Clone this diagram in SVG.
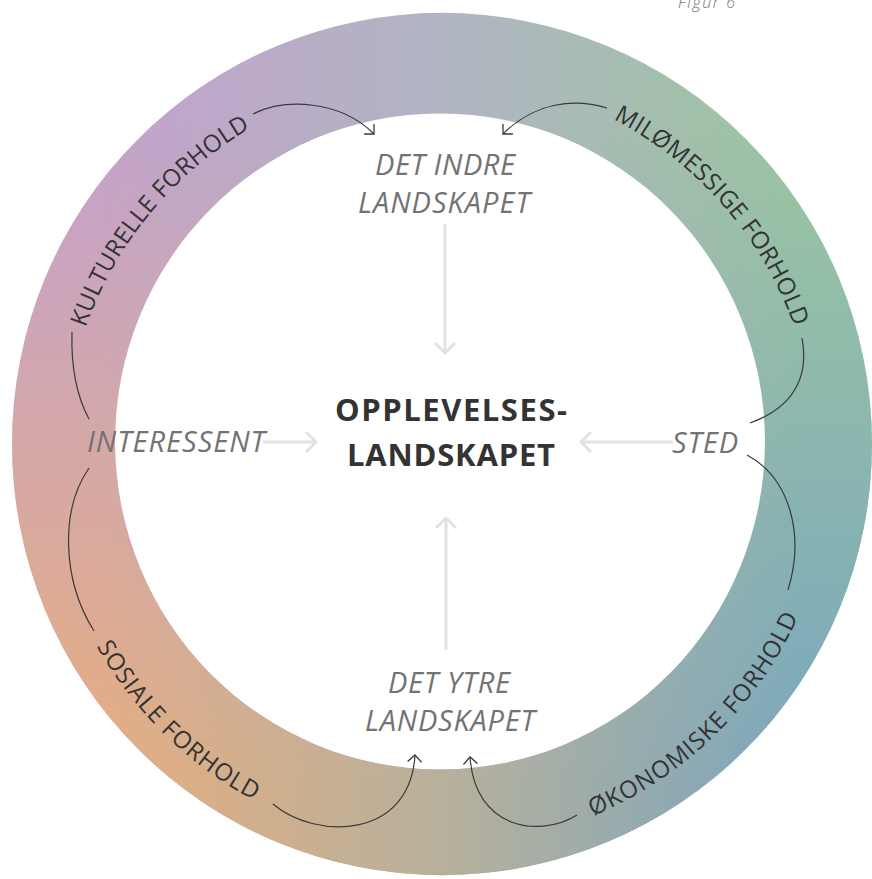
<svg xmlns="http://www.w3.org/2000/svg" xmlns:xlink="http://www.w3.org/1999/xlink" width="872" height="879" viewBox="0 0 872 879">
<style>
.lbl{font-family:"Open Sans","Liberation Sans",sans-serif;font-style:italic;font-weight:400;fill:#737373;font-size:29px}
.ring-t{font-family:"Open Sans","Liberation Sans",sans-serif;font-size:24px;fill:#333333}
.ctr{font-family:"Open Sans","Liberation Sans",sans-serif;font-weight:700;font-size:31px;fill:#333333}
.fig{font-family:"Open Sans","Liberation Sans",sans-serif;font-style:italic;font-weight:300;font-size:16px;fill:#777777}
.dk{fill:none;stroke:#3a3a3a;stroke-width:1.2}
.lt{fill:none;stroke:#e2e2e2;stroke-width:3}
</style>
<defs>
<linearGradient id="gTop" gradientUnits="userSpaceOnUse" x1="100" y1="0" x2="800" y2="0">
<stop offset="0" stop-color="#c4a2ce"/><stop offset="0.5" stop-color="#b0b5c2"/><stop offset="1" stop-color="#9cc6a0"/>
</linearGradient>
<linearGradient id="gBot" gradientUnits="userSpaceOnUse" x1="100" y1="0" x2="800" y2="0">
<stop offset="0" stop-color="#e6ae80"/><stop offset="0.5" stop-color="#b6b09c"/><stop offset="1" stop-color="#7aa6be"/>
</linearGradient>
<linearGradient id="gV" gradientUnits="userSpaceOnUse" x1="0" y1="120" x2="0" y2="780">
<stop offset="0" stop-color="#000"/><stop offset="1" stop-color="#fff"/>
</linearGradient>
<mask id="mV" maskUnits="userSpaceOnUse" x="0" y="0" width="872" height="879">
<rect x="0" y="0" width="872" height="879" fill="url(#gV)"/>
</mask>
<marker id="ahD" viewBox="-10 -10 20 20" markerUnits="userSpaceOnUse" markerWidth="20" markerHeight="20" refX="0" refY="0" orient="auto">
<path d="M -7 -7 L 0 0 L -7 7" fill="none" stroke="#3a3a3a" stroke-width="1.3"/>
</marker>
<marker id="ahL" viewBox="-14 -14 28 28" markerUnits="userSpaceOnUse" markerWidth="28" markerHeight="28" refX="0" refY="0" orient="auto">
<path d="M -10 -10 L 0 0 L -10 10" fill="none" stroke="#e2e2e2" stroke-width="3"/>
</marker>
<path id="pKult" d="M 87.6 584.1 A 376 376 0 0 1 502.7 82.3"/>
<path id="pMilo" d="M 367.6 84.0 A 376 376 0 0 1 795.7 574.8"/>
<path id="pOko" d="M 332.1 831.9 A 394 394 0 0 0 822.1 357.0"/>
<path id="pSos" d="M 58.4 355.0 A 394 394 0 0 0 545.9 832.5"/>
</defs>
<g id="ring">
<path fill-rule="evenodd" fill="url(#gTop)" d="M 12 444 A 430 431 0 1 0 872 444 A 430 431 0 1 0 12 444 Z M 115 441.5 A 325 328 0 1 0 765 441.5 A 325 328 0 1 0 115 441.5 Z"/>
<path fill-rule="evenodd" fill="url(#gBot)" mask="url(#mV)" d="M 12 444 A 430 431 0 1 0 872 444 A 430 431 0 1 0 12 444 Z M 115 441.5 A 325 328 0 1 0 765 441.5 A 325 328 0 1 0 115 441.5 Z"/>
</g>
<g id="connectors">
<line class="lt" x1="445" y1="224" x2="445" y2="353" marker-end="url(#ahL)"/>
<line class="lt" x1="446" y1="650" x2="446" y2="518" marker-end="url(#ahL)"/>
<line class="lt" x1="263" y1="442" x2="316" y2="442" marker-end="url(#ahL)"/>
<line class="lt" x1="673" y1="442" x2="581" y2="442" marker-end="url(#ahL)"/>
<path class="dk" d="M 253 114 C 285 98, 340 100, 374 134" marker-end="url(#ahD)"/>
<path class="dk" d="M 607 108 C 575 98, 535 102, 503 134" marker-end="url(#ahD)"/>
<path class="dk" d="M 72 332 C 71 365, 76 395, 89 419"/>
<path class="dk" d="M 89 468 C 60 510, 62 580, 94 631"/>
<path class="dk" d="M 802 338 C 808 370, 800 405, 750 423"/>
<path class="dk" d="M 747 455 C 790 478, 805 535, 788 590"/>
<path class="dk" d="M 273 804 C 315 840, 410 840, 415 755" marker-end="url(#ahD)"/>
<path class="dk" d="M 577 815 C 540 838, 475 830, 470 757" marker-end="url(#ahD)"/>
</g>
<g id="node-figur"><text class="fig" x="678" y="8" textLength="57">Figur 6</text></g>
<g id="node-det-indre">
<text class="lbl" x="445" y="175" text-anchor="middle" textLength="140">DET INDRE</text>
<text class="lbl" x="444" y="213" text-anchor="middle" textLength="172">LANDSKAPET</text>
</g>
<g id="node-center">
<text class="ctr" x="451" y="421" text-anchor="middle" textLength="232">OPPLEVELSES-</text>
<text class="ctr" x="451" y="466" text-anchor="middle" textLength="208">LANDSKAPET</text>
</g>
<g id="node-interessent"><text class="lbl" x="176" y="452" text-anchor="middle" textLength="178">INTERESSENT</text></g>
<g id="node-sted"><text class="lbl" x="705" y="453" text-anchor="middle" textLength="66">STED</text></g>
<g id="node-det-ytre">
<text class="lbl" x="449" y="693" text-anchor="middle" textLength="122">DET YTRE</text>
<text class="lbl" x="450" y="731" text-anchor="middle" textLength="170">LANDSKAPET</text>
</g>
<g id="node-kulturelle"><text class="ring-t"><textPath xlink:href="#pKult" startOffset="50%" text-anchor="middle" textLength="264">KULTURELLE FORHOLD</textPath></text></g>
<g id="node-milomessige"><text class="ring-t"><textPath xlink:href="#pMilo" startOffset="50%" text-anchor="middle" textLength="282">MILØMESSIGE FORHOLD</textPath></text></g>
<g id="node-okonomiske"><text class="ring-t"><textPath xlink:href="#pOko" startOffset="50%" text-anchor="middle" textLength="293">ØKONOMISKE FORHOLD</textPath></text></g>
<g id="node-sosiale"><text class="ring-t"><textPath xlink:href="#pSos" startOffset="50%" text-anchor="middle" textLength="223">SOSIALE FORHOLD</textPath></text></g>
</svg>
